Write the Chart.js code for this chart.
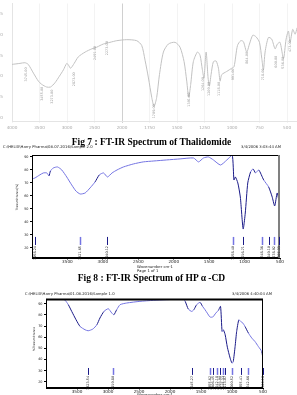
<!DOCTYPE html>
<html>
<head>
<meta charset="utf-8">
<script src="https://cdn.jsdelivr.net/npm/chart.js@4.4.1/dist/chart.umd.min.js"></script>
<style>
body{margin:0;width:297px;height:395px;background:#fff;position:relative;overflow:hidden;font-family:"DejaVu Sans",sans-serif}
canvas{position:absolute;left:0}
.cap{position:absolute;left:3px;width:297px;text-align:center;font:bold 9.5px "Liberation Serif",serif;color:#000;white-space:nowrap}
.tiny{position:absolute;font:3.8px "DejaVu Sans",sans-serif;color:#222;white-space:nowrap;line-height:4px}
.ytl{position:absolute;font:3px "DejaVu Sans",sans-serif;color:#222;white-space:nowrap;line-height:3px;transform:translate(-50%,-50%) rotate(-90deg)}
</style>
</head>
<body>
<canvas id="c1" width="297" height="132" style="top:0"></canvas>
<canvas id="c2" width="297" height="135" style="top:140px"></canvas>
<canvas id="c3" width="297" height="110" style="top:285px"></canvas>

<div class="cap" style="top:137px">Fig 7 : FT-IR Spectrum of Thalidomide</div>
<div class="tiny" style="left:3px;top:145px">C:\HELIX\Harry Pharma\08.07.2016\Sample 2.0</div>
<div class="tiny" style="left:241px;top:145px">3/4/2006 3:03:44 AM</div>
<div class="ytl" style="left:17px;top:197px">Transmittance[%]</div>
<div class="tiny" style="left:137px;top:264.5px">Wavenumber cm-1</div>
<div class="tiny" style="left:137px;top:268.5px">Page 1 of 1</div>

<div class="cap" style="top:273px">Fig 8 : FT-IR Spectrum of HP &alpha; -CD</div>
<div class="tiny" style="left:25px;top:292px">C:\HELIX\Harry Pharma\01.08.2016\Sample 1.0</div>
<div class="tiny" style="left:232px;top:292px">3/4/2006 4:40:04 AM</div>
<div class="ytl" style="left:34px;top:339px">%Transmittance</div>
<div class="tiny" style="left:137px;top:393px">Wavenumber cm-1</div>

<script>
// ---- top spectrum (cropped, grey) ----
const xLabelsTop = ['4000','3500','3000','2500','2000','1750','1500','1250','1000','750','500'];
const yTicksTop = [0, 2.5, 5, 7.5, 10, 12.5];
const wnTop = [4000,3855,3765,3705,3610,3520,3460,3370,3300,3220,3140,3065,3005,2975,2935,2870,2795,2670,2550,2460,
  2400,2340,2220,2095,1957,1867,1821,1791,1760,1730,1709,1685,1660,1624,1579,1518,1473,1436,1412,1394,
  1376,1352,1315,1291,1270,1255,1236,1218,1206,1191,1170,1145,1124,1109,1094,1049,1003,982,951,921,
  897,867,842,812,782,751,730,715,700,670,640,609,588,564,533,509,488,473,449,427,409];
const tTop = [6.43,6.55,6.63,6.43,5.38,4.42,4.04,3.72,3.72,4.22,5.0,5.78,6.55,6.36,5.97,6.55,7.33,7.91,8.29,8.49,
  8.69,8.87,9.07,9.27,9.39,9.27,8.69,6.94,4.8,2.48,1.40,2.48,5.2,7.91,8.87,9.07,8.49,6.75,4.42,2.48,
  4.04,6.75,7.91,7.52,5.78,4.8,7.91,4.8,3.84,5.2,6.75,6.83,5.97,4.42,5.2,5.58,5.97,6.16,8.69,9.27,
  9.15,7.91,8.87,9.92,9.73,9.07,7.13,5.78,7.91,9.65,9.46,8.29,8.87,9.07,7.13,9.46,10.43,9.07,10.62,10.04,10.82];
const peaksTop = [3745,3455,3273,2873,2491,2273,1709,1391,1264,1209,1118,991,864,718,600,536,473];
const peakTTop = [5.23,2.91,2.56,4.65,7.79,8.37,0.81,2.21,4.07,3.49,3.49,5.23,7.21,5.23,6.75,6.63,8.61];

// ---- Fig 7 : thalidomide ----
const xTicksMid = [3500,3000,2500,2000,1500,1000,500];
const yTicksMid = [20,30,40,50,60,70,80,90];
const wnMid = [4000,3960,3890,3840,3790,3760,3740,3700,3640,3580,3510,3440,3380,3320,3250,3180,3110,3050,2990,2935,
  2870,2800,2710,2570,2430,2280,2100,1910,1720,1650,1580,1510,1440,1340,1250,1175,1150,1130,1095,1060,
  1020,990,955,915,880,845,800,730,660,610,575,540,515,500];
const tMid = [73.1,73.8,76.2,77.7,77.7,75.4,79.2,81.5,82.3,80,74.6,68.5,63.8,61.5,62.3,66.2,70.8,76.2,77.7,74.6,
  77.7,80,82.3,84.6,86.2,86.9,87.7,88.5,89.2,86.2,89.2,90,87.7,83.8,87.7,91.5,72.3,74.6,70,59.2,
  34.6,46.9,70,78.5,80.8,77.7,80,72.3,66.9,59.2,52.3,62.3,56.9,65.4];
const peaksMid = [3958.24,3321.65,2940.12,1158.40,1016.71,748.36,649.10,578.92,507.33];

// ---- Fig 8 : HP alpha-CD ----
const xTicksBot = [3500,3000,2500,2000,1500,1000,500];
const yTicksBot = [20,30,40,50,60,70,80,90];
const wnBot = [4000,3720,3690,3640,3585,3515,3450,3370,3320,3245,3180,3130,3065,2995,2940,2905,2860,2805,2700,2485,
  2270,2055,1785,1755,1705,1650,1615,1570,1515,1475,1435,1400,1355,1310,1260,1220,1185,1160,1140,1110,
  1075,1030,1000,980,950,925,890,860,825,790,735,680,630,575,520,500];
const tBot = [93.9,93.9,93.0,89.1,83.1,75.6,69.6,66.7,65.8,67.3,71.1,77.2,83.1,85.5,81.7,80.1,84.6,89.1,90.6,92.1,
  93.0,93.6,93.9,92.1,85.2,83.1,84.6,89.1,91.2,87.6,84.6,81.7,78.1,78.1,81.7,84.0,87.6,65.1,66.7,62.2,
  51.1,41.3,36.8,38.2,51.7,65.1,75.6,74.1,72.7,69.6,63.7,59.2,56.2,51.7,47.2,39.7];
const peaksBot = [3323.54,2919.80,1645.27,1355.62,1306.45,1242.18,1193.90,1145.33,1113.07,1000.52,855.41,742.66,500.18];

const LIGHT = '#7474e2', DARK = '#1a1a88';
const tickFont = { family: 'DejaVu Sans', size: 4.2 };
const yFont = { family: 'DejaVu Sans', size: 3.4 };

// top axis is broken at 2000 (500 per step above, 250 per step below)
const pos = wn => wn >= 2000 ? (4000 - wn) / 500 : 4 + (2000 - wn) / 250;

function decor(cfg) {
  return {
    id: 'decor',
    afterDatasetsDraw(chart) {
      const { ctx, chartArea: a } = chart;
      const x = chart.scales.x, y = chart.scales.y;
      ctx.save();
      if (cfg.frame) {
        ctx.strokeStyle = '#000';
        ctx.lineWidth = 1;
        ctx.strokeRect(a.left + 0.5, a.top + 0.5, a.width - 1, a.height - 1);
        ctx.lineWidth = cfg.topW || 1;
        ctx.beginPath(); ctx.moveTo(a.left, a.top + 0.5); ctx.lineTo(a.right, a.top + 0.5); ctx.stroke();
        if (cfg.rightColor) {
          ctx.strokeStyle = cfg.rightColor; ctx.lineWidth = 2;
          ctx.beginPath(); ctx.moveTo(a.right - 1, a.top); ctx.lineTo(a.right - 1, a.bottom); ctx.stroke();
        }
      }
      ctx.font = cfg.font || '3.4px "DejaVu Sans"';
      ctx.textBaseline = 'middle';
      if (cfg.bars) {
        cfg.bars.forEach((p, i) => {
          const px = Math.round(x.getPixelForValue(p)) + 0.5;
          const y1 = y.getPixelForValue(cfg.barHi), y2 = y.getPixelForValue(cfg.barLo);
          ctx.strokeStyle = i % 2 ? LIGHT : DARK;
          ctx.lineWidth = i % 2 ? 1.5 : 1;
          ctx.beginPath(); ctx.moveTo(px, y1); ctx.lineTo(px, y2); ctx.stroke();
          ctx.save();
          ctx.translate(px, y2 + 1);
          ctx.rotate(-Math.PI / 2);
          ctx.textAlign = 'right';
          ctx.fillStyle = '#222';
          ctx.fillText(p.toFixed(2), 0, 0);
          ctx.restore();
        });
      }
      if (cfg.marks) {
        cfg.marks.forEach((p, i) => {
          ctx.save();
          ctx.translate(x.getPixelForValue(pos(p)), y.getPixelForValue(cfg.markT[i]));
          ctx.rotate(-Math.PI / 2);
          ctx.textAlign = 'center';
          ctx.fillStyle = '#9a9a9a';
          ctx.fillText(p.toFixed(2), 0, 0);
          ctx.restore();
        });
      }
      ctx.restore();
    }
  };
}

// chart 1 (top)
new Chart(document.getElementById('c1'), {
  type: 'line',
  data: {
    datasets: [{
      data: wnTop.map((w, i) => ({ x: pos(w), y: tTop[i] })),
      borderColor: '#c2c2c2', borderWidth: 1, pointRadius: 0, tension: 0.25
    }]
  },
  options: {
    responsive: false, animation: false,
    layout: { padding: 0 },
    plugins: { legend: { display: false }, tooltip: { enabled: false } },
    scales: {
      x: {
        type: 'linear', min: 0, max: 10.36,
        afterBuildTicks: s => { s.ticks = xLabelsTop.map((t, i) => ({ value: i })); },
        afterFit: s => { s.height = 11; },
        ticks: { font: tickFont, color: '#aaa', padding: 2, maxRotation: 0,
          callback: v => xLabelsTop[Math.round(v)] },
        grid: { color: c => c.tick && c.tick.value === 4 ? '#d0d0d0' : '#f3f3f3', tickLength: 2 },
        border: { color: '#e4e4e4' }
      },
      y: {
        min: -0.35, max: 13.72,
        afterBuildTicks: s => { s.ticks = yTicksTop.map(v => ({ value: v })); },
        afterFit: s => { s.width = 12; },
        ticks: { font: tickFont, color: '#aaa', padding: 1, callback: v => v === 0 ? '0' : v.toFixed(1) },
        grid: { display: false },
        border: { color: '#e4e4e4' }
      }
    }
  },
  plugins: [decor({ marks: peaksTop, markT: peakTTop, font: '3.4px "DejaVu Sans"' })]
});

function spectrum(id, wn, t, opt) {
  return new Chart(document.getElementById(id), {
    type: 'line',
    data: {
      datasets: [{
        data: wn.map((w, i) => ({ x: w, y: t[i] })),
        borderWidth: 1, pointRadius: 0, tension: 0.2, borderColor: LIGHT,
        segment: {
          borderColor: c => Math.abs(c.p1.y - c.p0.y) > 1.6 * Math.abs(c.p1.x - c.p0.x) ? DARK : LIGHT
        }
      }]
    },
    options: {
      responsive: false, animation: false,
      layout: { padding: opt.pad },
      plugins: { legend: { display: false }, tooltip: { enabled: false } },
      scales: {
        x: {
          type: 'linear', reverse: true, min: 500, max: 4000,
          afterBuildTicks: s => { s.ticks = opt.xTicks.map(v => ({ value: v })); },
          afterFit: s => { s.height = opt.xH; },
          ticks: { font: tickFont, color: '#222', padding: 0, maxRotation: 0, callback: v => String(v) },
          grid: { drawOnChartArea: false, tickLength: 1.5, color: '#000' },
          border: { color: '#000' }
        },
        y: {
          min: opt.yMin, max: opt.yMax,
          afterBuildTicks: s => { s.ticks = opt.yTicks.map(v => ({ value: v })); },
          afterFit: s => { s.width = opt.yW; },
          ticks: { font: yFont, color: '#222', padding: 1.5, callback: v => String(v) },
          grid: { drawOnChartArea: false, tickLength: 2, color: '#000' },
          border: { color: '#000' }
        }
      }
    },
    plugins: [decor(opt.decor)]
  });
}

spectrum('c2', wnMid, tMid, {
  pad: { left: 15, top: 15, right: 17, bottom: 0 }, xH: 17, yW: 17,
  yMin: 12.3, yMax: 91.5, xTicks: xTicksMid, yTicks: yTicksMid,
  decor: { frame: true, rightColor: '#808080', bars: peaksMid, barHi: 28.5, barLo: 22.3 }
});

spectrum('c3', wnBot, tBot, {
  pad: { left: 31, top: 14, right: 34, bottom: 0 }, xH: 7, yW: 15,
  yMin: 14.6, yMax: 94.2, xTicks: xTicksBot, yTicks: yTicksBot,
  decor: { frame: true, topW: 2, bars: peaksBot, barHi: 32.5, barLo: 26.3 }
});
</script>
</body>
</html>
